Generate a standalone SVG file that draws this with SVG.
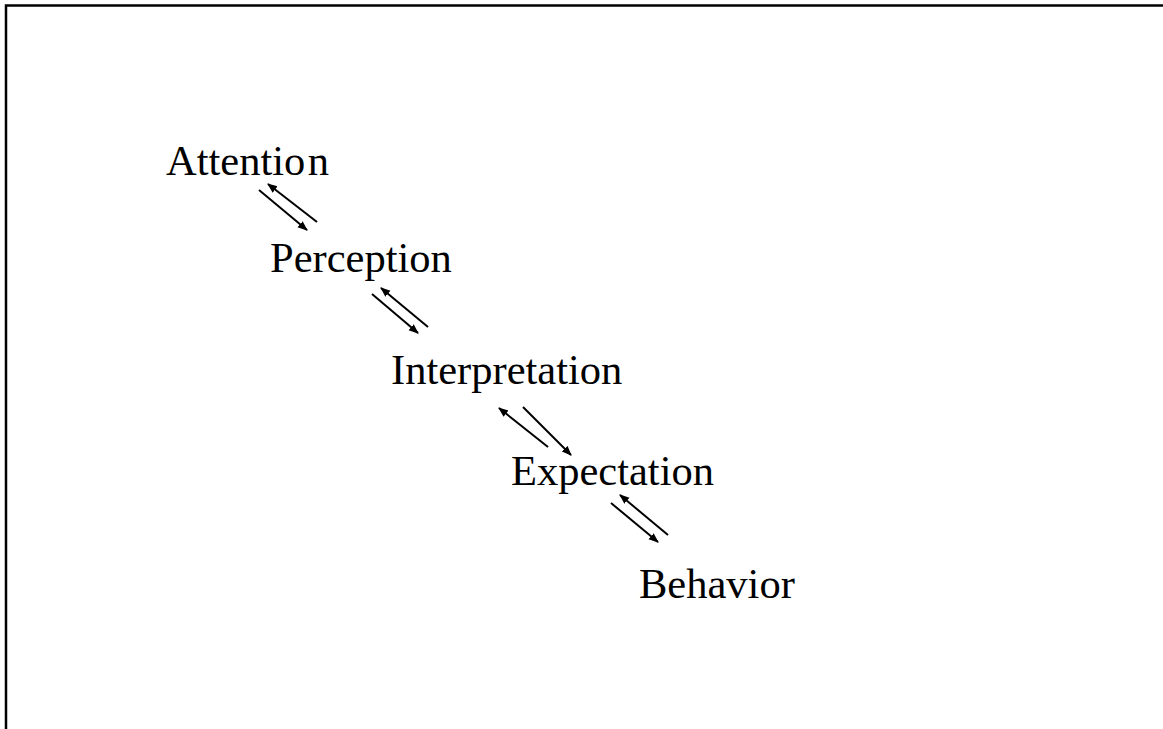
<svg xmlns="http://www.w3.org/2000/svg" width="1163" height="729" viewBox="0 0 1163 729">
<style>
.t{font-family:"Liberation Serif","Times New Roman",serif;font-size:42.5px;fill:#000}
.a{stroke:#000;stroke-width:2;fill:none;marker-end:url(#ah)}
</style>
<defs>
<marker id="ah" viewBox="0 0 10 10" refX="9" refY="5" markerWidth="5" markerHeight="5" orient="auto" markerUnits="strokeWidth">
<path d="M0,1 L10,5 L0,9 z" fill="#000"/>
</marker>
</defs>
<rect width="1163" height="729" fill="#fff"/>
<path d="M6,729 V5.5 H1163" stroke="#000" stroke-width="2.5" fill="none"/>
<g id="attention"><text class="t" x="166" y="175">Attentio<tspan dx="2.5">n</tspan></text></g>
<g id="perception"><text class="t" x="270" y="272">Perception</text></g>
<g id="interpretation"><text class="t" x="391" y="384">Interpretation</text></g>
<g id="expectation"><text class="t" x="511" y="485">Expectation</text></g>
<g id="behavior"><text class="t" x="639" y="598">Behavior</text></g>
<g id="connectors">
<line class="a" x1="259" y1="190" x2="307" y2="230"/>
<line class="a" x1="317" y1="222" x2="268" y2="184"/>
<line class="a" x1="372" y1="294" x2="418" y2="333"/>
<line class="a" x1="428" y1="327" x2="381" y2="288"/>
<line class="a" x1="548" y1="447" x2="499" y2="408"/>
<line class="a" x1="523" y1="407" x2="571" y2="455"/>
<line class="a" x1="668" y1="535" x2="620" y2="495"/>
<line class="a" x1="611" y1="503" x2="658" y2="542"/>
</g>
</svg>
